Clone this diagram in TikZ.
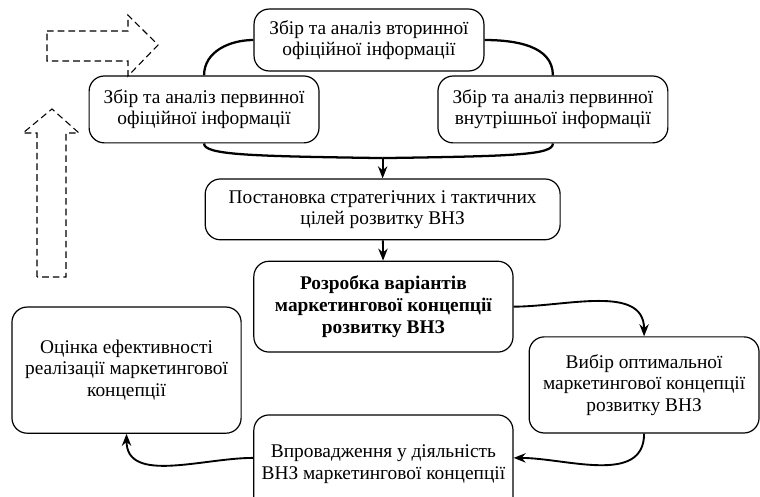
\documentclass[tikz,border=0pt]{standalone}
\usepackage{fontspec}
\setmainfont{Liberation Serif}
\usetikzlibrary{arrows.meta}
\tikzset{
  >={Stealth[length=9pt,width=7pt]},
  block/.style={draw=black,line width=0.9pt,rounded corners=0.4cm,align=center,
    inner sep=2pt,font=\fontsize{14.5}{16}\selectfont},
  boldblock/.style={block,font=\fontsize{14.5}{16.3}\selectfont\bfseries},
  curveline/.style={draw=black,line width=1.7pt},
  flowline/.style={draw=black,line width=1.4pt,->},
  hollow/.style={draw=black,line width=0.8pt,dash pattern=on 5pt off 3pt}
}

\begin{document}
\begin{tikzpicture}
  \clip (0,0) rectangle (20,-13.079);
  \node (secnd) at (9.71,-1.053) [block,minimum width=6.05cm,minimum height=1.63cm] {Збір та аналіз вторинної\\офіційної інформації};
  \node (primo) at (5.37,-2.88) [block,minimum width=6.05cm,minimum height=1.76cm] {Збір та аналіз первинної\\офіційної інформації};
  \node (primi) at (14.55,-2.88) [block,minimum width=6.05cm,minimum height=1.76cm] {Збір та аналіз первинної\\внутрішньої інформації};
  \coordinate (jn) at (10.07,-4.16);
  \node (goals) at (10.07,-5.51) [block,minimum width=9.34cm,minimum height=1.6cm] {Постановка стратегічних і тактичних\\цілей розвитку ВНЗ};
  \node (varnt) at (10.09,-8.07) [boldblock,minimum width=6.82cm,minimum height=2.39cm] {Розробка варіантів\\маркетингової концепції\\розвитку ВНЗ};
  \node (choice) at (16.95,-10.13) [block,minimum width=6.05cm,minimum height=2.53cm] {Вибір оптимальної\\маркетингової концепції\\розвитку ВНЗ};
  \node (implm) at (10.09,-12.21) [block,minimum width=6.82cm,minimum height=2.58cm] {Впровадження у діяльність\\ВНЗ маркетингової концепції};
  \node (evalu) at (3.33,-9.74) [block,minimum width=6.03cm,minimum height=3.32cm] {Оцінка ефективності\\реалізації маркетингової\\концепції};
  % gathering of information
  \draw (secnd.west) to[out=180,in=90] (primo.north) [curveline];
  \draw (secnd.east) to[out=0,in=90] (primi.north) [curveline];
  \draw (primo.south) .. controls +(0,-0.3) and +(-3.5,0.05) .. (jn) [curveline];
  \draw (primi.south) .. controls +(0,-0.3) and +(3.5,0.05) .. (jn) [curveline];
  \draw (jn) -- (goals.north) [flowline];
  \draw (goals) -- (varnt) [flowline];
  % cycle
  \draw (varnt.east) to[out=0,in=90] (choice.north) [flowline];
  \draw (choice.south) to[out=-90,in=0] ([yshift=0.16cm]implm.east) [flowline];
  \draw ([yshift=0.16cm]implm.west) to[out=180,in=-90] (evalu.south) [flowline];
  % hollow arrows
  \draw (1.237,-0.816) -- (3.368,-0.816) -- (3.368,-0.395) -- (4.158,-1.184) -- (3.368,-2.0) -- (3.368,-1.605) -- (1.237,-1.605) -- cycle [hollow];
  \draw (0.974,-7.289) -- (0.974,-3.5) -- (0.605,-3.5) -- (1.368,-2.868) -- (2.079,-3.5) -- (1.737,-3.5) -- (1.737,-7.289) -- cycle [hollow];
\end{tikzpicture}
\end{document}
